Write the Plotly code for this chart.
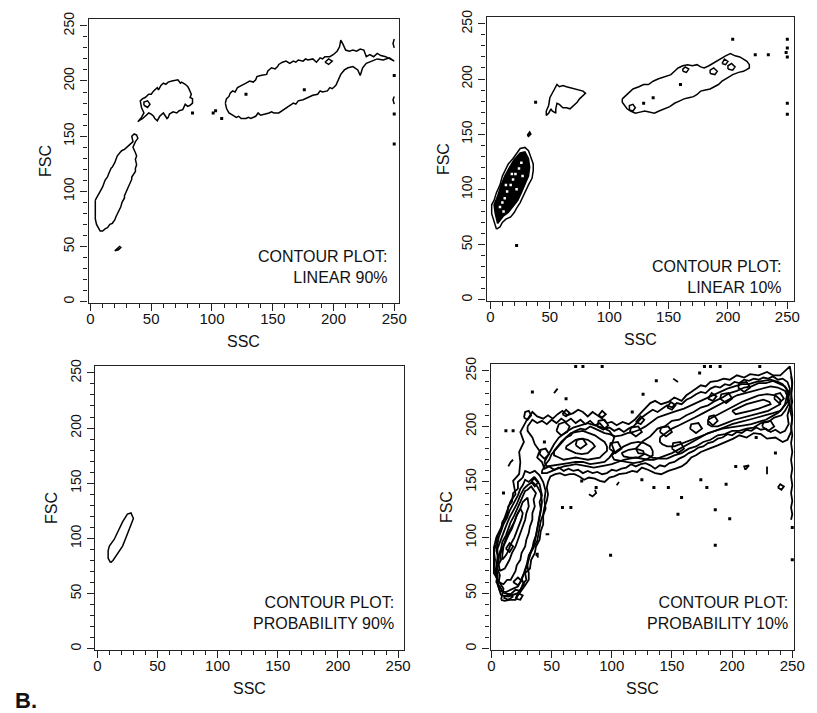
import plotly.graph_objects as go

# ---------------- contour outlines, (SSC, FSC) pairs ----------------

# Panel A: linear 90%
LIN90_LYMPH = [(4, 92), (4, 86), (4, 80), (4, 75), (5, 70), (7, 66), (8, 64), (10, 64), (12, 66), (14, 67),
               (16, 70), (18, 71), (20, 74), (21, 77), (22, 79), (24, 84), (25, 86), (26, 90), (28, 94), (28, 96),
               (30, 101), (31, 104), (32, 107), (34, 111), (34, 113), (37, 118), (37, 121), (38, 124), (37, 129),
               (38, 132), (37, 135), (36, 138), (35, 140), (37, 145), (39, 148), (38, 151), (36, 152), (34, 150),
               (35, 145), (33, 143), (31, 141), (28, 138), (26, 137), (25, 136), (22, 132), (21, 129), (20, 126),
               (18, 122), (17, 121), (15, 116), (14, 113), (12, 110), (11, 107), (10, 104), (8, 100), (7, 98),
               (4, 92)]
LIN90_SMALL = [(20, 46), (22, 48), (24, 50), (25, 49), (23, 47), (20, 46)]
LIN90_MONO = [(39, 163), (42, 167), (44, 171), (42, 176), (41, 182), (43, 184), (45, 185), (48, 188), (50, 188),
              (52, 191), (55, 194), (56, 192), (58, 196), (60, 198), (62, 197), (64, 199), (67, 200), (70, 201),
              (72, 201), (74, 198), (75, 199), (78, 197), (80, 195), (81, 193), (83, 188), (82, 185), (84, 184),
              (84, 180), (82, 178), (80, 177), (78, 179), (76, 174), (73, 173), (71, 171), (68, 172), (65, 170),
              (64, 167), (63, 166), (61, 169), (60, 171), (57, 168), (55, 164), (53, 166), (52, 168), (50, 170),
              (48, 171), (45, 168), (43, 166), (40, 164), (39, 163)]
LIN90_MONO_LOOP = [(44, 178), (47, 176), (49, 179), (47, 182), (44, 181), (44, 178)]
LIN90_GRAN = [(111, 180), (112, 184), (114, 186), (115, 189), (117, 191), (119, 190), (121, 194), (123, 195),
              (125, 196), (128, 198), (131, 200), (134, 199), (136, 201), (137, 204), (140, 205), (143, 206),
              (145, 206), (146, 209), (149, 212), (152, 211), (154, 213), (155, 215), (158, 217), (161, 218),
              (164, 216), (167, 218), (169, 217), (171, 219), (175, 218), (177, 220), (179, 219), (183, 220),
              (186, 217), (189, 221), (191, 220), (193, 222), (197, 222), (200, 224), (203, 227), (205, 231),
              (206, 237), (208, 233), (210, 228), (213, 227), (216, 228), (219, 227), (222, 229), (225, 228),
              (226, 225), (227, 222), (230, 224), (233, 222), (236, 225), (239, 223), (243, 222), (247, 220),
              (250, 218), (246, 221), (241, 219), (236, 220), (231, 218), (227, 216), (224, 212), (222, 205),
              (220, 210), (216, 213), (212, 212), (209, 210), (206, 206), (205, 203), (204, 201), (202, 196),
              (199, 193), (197, 194), (195, 191), (191, 190), (189, 191), (187, 188), (183, 187), (181, 186),
              (179, 185), (175, 183), (171, 182), (169, 179), (167, 180), (163, 177), (161, 176), (159, 174),
              (155, 171), (151, 171), (149, 172), (147, 171), (144, 170), (140, 169), (138, 171), (136, 168),
              (132, 166), (130, 167), (128, 166), (124, 166), (122, 168), (120, 167), (117, 169), (114, 171),
              (112, 175), (111, 180)]
LIN90_GRAN_LOOP = [(193, 217), (196, 215), (199, 218), (196, 220), (193, 217)]
LIN90_EDGE_A = [(250, 238), (249, 234), (250, 230)]
LIN90_EDGE_B = [(250, 186), (249, 183), (250, 179)]
LIN90_DOTS = [(84, 171), (101, 171), (103, 173), (108, 166), (128, 188), (176, 192), (250, 170), (250, 143),
              (250, 205)]

# Panel B: linear 10%
LIN10_LYMPH_1 = [(5, 64), (3, 70), (1, 78), (1, 86), (3, 90), (5, 97), (8, 104), (10, 112), (13, 118), (15, 123),
                 (19, 128), (22, 133), (25, 137), (29, 138), (32, 135), (34, 129), (36, 123), (36, 117), (35, 110),
                 (32, 104), (30, 99), (27, 93), (25, 88), (22, 83), (20, 79), (17, 75), (13, 73), (10, 70), (8, 66),
                 (5, 64)]
LIN10_LYMPH_CORE = [(6, 69), (4, 78), (3, 86), (6, 94), (9, 104), (12, 112), (16, 120), (20, 127), (25, 133),
                    (29, 134), (32, 128), (33, 120), (32, 112), (29, 104), (26, 97), (23, 90), (19, 84), (15, 79),
                    (11, 76), (8, 72), (6, 69)]
LIN10_LYMPH_GAPS = [(8, 84), (10, 88), (12, 92), (14, 98), (17, 104), (19, 109), (21, 114), (24, 119), (26, 124),
                    (13, 104), (18, 114), (22, 100), (27, 112), (11, 80)]
LIN10_MONO = [(47, 171), (49, 176), (50, 183), (53, 189), (56, 195), (58, 193), (61, 194), (64, 193), (68, 192),
              (72, 191), (75, 190), (78, 189), (80, 187), (77, 184), (75, 182), (73, 179), (71, 177), (69, 175),
              (67, 173), (64, 174), (61, 174), (58, 177), (56, 178), (55, 173), (55, 169), (52, 171), (51, 173),
              (49, 169), (47, 167), (47, 171)]
LIN10_GRAN = [(111, 182), (114, 185), (116, 187), (120, 191), (125, 193), (129, 195), (133, 195), (137, 198),
              (141, 200), (146, 202), (152, 204), (155, 207), (158, 210), (162, 212), (166, 213), (170, 212),
              (174, 213), (177, 211), (180, 210), (184, 212), (187, 214), (190, 216), (194, 218), (198, 221),
              (202, 223), (206, 221), (210, 220), (213, 218), (216, 216), (218, 213), (218, 210), (215, 208),
              (213, 207), (209, 206), (204, 204), (201, 202), (198, 200), (195, 198), (192, 195), (188, 193),
              (185, 191), (181, 190), (177, 189), (174, 186), (171, 184), (167, 183), (163, 182), (159, 180),
              (155, 178), (151, 175), (146, 173), (142, 171), (138, 169), (134, 170), (130, 171), (126, 170),
              (122, 169), (118, 171), (115, 173), (113, 176), (111, 179), (111, 182)]
LIN10_GRAN_LOOPS = [
    [(117, 172), (120, 171), (122, 174), (120, 177), (117, 176), (117, 172)],
    [(162, 207), (165, 206), (167, 209), (164, 211), (162, 209), (162, 207)],
    [(185, 205), (189, 204), (191, 207), (188, 210), (185, 208), (185, 205)],
    [(200, 209), (204, 208), (206, 211), (203, 214), (200, 212), (200, 209)],
    [(195, 214), (198, 213), (200, 216), (197, 218), (195, 214)],
]
LIN10_NODE = [(31, 149), (33, 152), (34, 150), (32, 148), (31, 149)]
LIN10_DOTS = [(38, 179), (22, 49), (129, 178), (137, 183), (160, 195), (204, 236), (223, 222), (234, 222),
              (250, 236), (250, 228), (249, 224), (250, 220), (250, 178), (250, 168)]

# Panel C: probability 90%
PROB90_LYMPH = [(11, 78), (9, 82), (9, 89), (10, 93), (14, 99), (17, 106), (21, 115), (25, 122), (28, 123),
                (30, 118), (28, 113), (25, 104), (21, 93), (17, 86), (13, 80), (11, 78)]

# Panel D: probability 10%
PROB10_OUTER = [(8, 44), (10, 54), (2, 68), (2, 80), (2, 91), (4, 100), (8, 109), (12, 121), (16, 133),
                (20, 139), (18, 151), (23, 157), (24, 168), (23, 177), (27, 186), (24, 195), (29, 205), (34, 213),
                (38, 209), (43, 207), (47, 210), (51, 207), (55, 211), (59, 214), (63, 210), (68, 212), (72, 215),
                (76, 213), (80, 209), (84, 213), (88, 210), (92, 207), (96, 203), (100, 204), (104, 201),
                (109, 204), (114, 202), (119, 206), (124, 212), (128, 217), (132, 221), (136, 223), (141, 220),
                (147, 222), (152, 226), (158, 223), (162, 228), (166, 231), (170, 234), (174, 237), (178, 236),
                (182, 240), (188, 241), (193, 243), (198, 242), (204, 246), (210, 244), (215, 247), (222, 246),
                (229, 249), (234, 246), (240, 246), (244, 250), (248, 254), (250, 240), (249, 225), (250, 210),
                (249, 195), (246, 188), (242, 186), (236, 190), (229, 189), (224, 193), (218, 194), (212, 190),
                (206, 192), (201, 189), (195, 186), (188, 183), (181, 180), (174, 177), (170, 174), (166, 172),
                (162, 167), (158, 164), (153, 162), (147, 160), (141, 157), (136, 158), (130, 161), (125, 163),
                (121, 159), (117, 160), (112, 158), (106, 157), (102, 155), (98, 154), (94, 150), (90, 151),
                (86, 153), (81, 154), (77, 152), (73, 155), (69, 157), (65, 157), (61, 156), (57, 158), (53, 157),
                (49, 155), (47, 150), (46, 145), (47, 139), (46, 133), (44, 127), (43, 121), (41, 115), (40, 109),
                (39, 103), (38, 97), (35, 91), (32, 85), (30, 79), (30, 74), (31, 68), (31, 62), (28, 57),
                (25, 53), (22, 48), (20, 44), (15, 44), (11, 43), (8, 44)]
PROB10_LYMPH_1B = [(10, 50), (16, 49), (20, 53), (24, 52), (26, 58), (29, 62), (28, 68), (32, 72), (33, 80),
                   (36, 86), (37, 92), (40, 98), (41, 106), (43, 112), (43, 120), (45, 126), (44, 134), (45, 142),
                   (43, 150), (40, 156), (36, 160), (32, 158), (28, 160), (26, 154), (22, 150), (22, 144),
                   (18, 140), (17, 132), (14, 128), (13, 120), (9, 114), (8, 106), (5, 102), (4, 94), (2, 88),
                   (3, 80), (2, 72), (5, 66), (4, 60), (7, 56), (10, 50)]
PROB10_LYMPH_2 = [(8, 48), (14, 47), (22, 50), (27, 58), (25, 63), (27, 68), (30, 78), (31, 84), (34, 90),
                  (35, 96), (37, 102), (38, 108), (39, 114), (40, 120), (41, 126), (40, 132), (42, 138), (40, 148),
                  (35, 154), (31, 150), (28, 152), (26, 147), (24, 144), (22, 138), (20, 134), (17, 128), (15, 124),
                  (13, 118), (10, 112), (8, 106), (6, 100), (5, 94), (4, 88), (6, 82), (5, 76), (3, 70), (4, 64),
                  (6, 55), (8, 48)]
PROB10_LYMPH_2B = [(7, 52), (12, 51), (18, 54), (22, 56), (25, 62), (28, 70), (31, 80), (33, 88), (36, 96),
                   (38, 106), (40, 116), (41, 124), (42, 132), (41, 140), (38, 146), (34, 150), (30, 147),
                   (27, 144), (24, 138), (21, 130), (18, 124), (15, 118), (12, 110), (9, 102), (7, 96), (5, 90),
                   (5, 82), (4, 74), (5, 66), (5, 58), (7, 52)]
PROB10_LYMPH_3 = [(6, 60), (10, 58), (13, 62), (16, 62), (18, 66), (20, 70), (21, 75), (24, 80), (25, 86),
                  (28, 92), (29, 98), (31, 104), (32, 110), (34, 116), (34, 122), (36, 128), (35, 134), (37, 140),
                  (33, 146), (30, 143), (28, 142), (26, 137), (24, 132), (21, 126), (19, 120), (16, 114), (14, 108),
                  (12, 102), (9, 96), (8, 90), (6, 84), (6, 78), (5, 72), (7, 66), (6, 60)]
PROB10_LYMPH_4 = [(7, 70), (11, 72), (13, 76), (15, 80), (17, 86), (20, 92), (22, 98), (24, 104), (26, 110),
                  (28, 116), (29, 122), (31, 128), (30, 136), (26, 132), (24, 126), (21, 120), (19, 114), (16, 108),
                  (13, 102), (11, 96), (9, 90), (7, 84), (8, 80), (6, 76), (7, 70)]
PROB10_LYMPH_5 = [(9, 80), (12, 84), (14, 88), (16, 94), (19, 100), (21, 106), (23, 112), (25, 117), (26, 122),
                  (24, 126), (21, 120), (19, 114), (17, 108), (14, 102), (12, 96), (10, 92), (9, 84), (9, 80)]
PROB10_BAND_1B = [(30, 200), (34, 206), (38, 203), (42, 205), (46, 202), (50, 206), (54, 203), (58, 207),
                  (62, 204), (66, 207), (70, 203), (74, 206), (78, 202), (82, 205), (86, 201), (90, 203),
                  (94, 198), (98, 199), (102, 196), (106, 198), (110, 195), (114, 198), (118, 200), (122, 205),
                  (126, 209), (130, 212), (134, 215), (138, 213), (142, 216), (146, 219), (150, 217), (154, 221),
                  (158, 220), (162, 224), (166, 226), (170, 229), (174, 231), (178, 230), (182, 234), (186, 236),
                  (190, 235), (194, 238), (198, 237), (202, 240), (206, 239), (210, 242), (214, 241), (218, 243),
                  (222, 242), (226, 244), (230, 243), (234, 245), (238, 242), (242, 243), (246, 240), (248, 234),
                  (247, 226), (248, 218), (246, 210), (247, 202), (244, 196), (240, 194), (236, 197), (232, 195),
                  (228, 198), (224, 197), (220, 199), (216, 196), (212, 197), (208, 194), (204, 195), (200, 192),
                  (196, 193), (192, 190), (188, 189), (184, 186), (180, 185), (176, 182), (172, 181), (168, 178),
                  (164, 176), (160, 173), (156, 171), (152, 168), (148, 167), (144, 164), (140, 165), (136, 162),
                  (132, 165), (128, 167), (124, 166), (120, 164), (116, 166), (112, 163), (108, 162), (104, 160),
                  (100, 161), (96, 158), (92, 157), (88, 159), (84, 158), (80, 160), (76, 158), (72, 161),
                  (68, 160), (64, 162), (60, 160), (56, 163), (52, 161), (48, 164), (44, 162), (42, 168),
                  (38, 172), (40, 178), (36, 184), (34, 190), (30, 196), (30, 200)]
PROB10_BAND_2 = [(42, 160), (45, 166), (48, 170), (50, 175), (54, 180), (56, 183), (58, 185), (62, 190), (66, 192),
                 (68, 195), (70, 196), (74, 198), (78, 197), (82, 200), (86, 198), (90, 196), (94, 194), (98, 193),
                 (103, 191), (108, 192), (113, 194), (118, 195), (123, 197), (128, 200), (133, 204), (138, 208),
                 (143, 210), (148, 212), (154, 214), (160, 216), (166, 219), (172, 222), (178, 225), (184, 228),
                 (190, 231), (196, 234), (202, 236), (208, 238), (214, 238), (220, 240), (226, 241), (232, 242),
                 (238, 240), (242, 238), (245, 234), (246, 230), (245, 225), (244, 220), (241, 215), (238, 212),
                 (233, 209), (228, 206), (222, 204), (216, 202), (210, 201), (204, 200), (198, 199), (192, 198),
                 (186, 196), (180, 194), (175, 191), (170, 188), (165, 185), (160, 182), (155, 179), (150, 176),
                 (145, 174), (140, 172), (135, 170), (130, 170), (125, 171), (120, 172), (115, 171), (110, 170),
                 (105, 168), (100, 166), (95, 165), (90, 164), (85, 163), (80, 164), (75, 165), (70, 166),
                 (65, 165), (60, 164), (55, 162), (50, 160), (46, 158), (42, 158), (42, 160)]
PROB10_BAND_2B = [(120, 180), (126, 187), (132, 191), (138, 198), (144, 200), (150, 205), (156, 206), (162, 210),
                  (168, 213), (174, 217), (180, 219), (186, 223), (192, 226), (198, 230), (204, 232), (210, 235),
                  (216, 236), (222, 239), (228, 239), (234, 241), (240, 238), (244, 236), (247, 231), (246, 226),
                  (247, 220), (244, 214), (241, 210), (235, 208), (230, 204), (224, 203), (218, 199), (212, 198),
                  (206, 196), (200, 196), (194, 193), (188, 192), (182, 188), (176, 186), (170, 182), (164, 180),
                  (158, 176), (152, 174), (146, 171), (140, 171), (134, 172), (128, 175), (122, 176), (120, 180)]
PROB10_MONO_2B = [(44, 168), (48, 176), (52, 184), (56, 190), (62, 195), (68, 199), (74, 201), (80, 203),
                  (86, 201), (92, 199), (98, 196), (102, 190), (100, 184), (102, 178), (98, 172), (94, 168),
                  (88, 167), (82, 166), (76, 168), (70, 168), (64, 167), (58, 166), (52, 165), (46, 164), (44, 168)]
PROB10_MONO_3 = [(52, 178), (55, 182), (58, 186), (62, 190), (66, 194), (71, 195), (76, 196), (81, 194), (86, 192),
                 (90, 189), (94, 186), (96, 182), (96, 178), (93, 175), (90, 172), (85, 171), (80, 170), (75, 171),
                 (70, 172), (65, 171), (60, 170), (56, 172), (52, 174), (52, 178)]
PROB10_MONO_4 = [(62, 182), (66, 185), (70, 188), (75, 189), (80, 188), (84, 185), (86, 182), (83, 179), (80, 176),
                 (75, 175), (70, 176), (66, 178), (62, 180), (62, 182)]
PROB10_MID_3 = [(100, 174), (104, 178), (110, 182), (116, 185), (122, 186), (127, 185), (132, 182), (134, 178),
                (134, 174), (130, 171), (124, 168), (118, 167), (112, 168), (106, 169), (102, 170), (100, 174)]
PROB10_MID_4 = [(108, 176), (114, 179), (120, 180), (126, 178), (127, 175), (122, 172), (115, 172), (110, 173),
                (108, 176)]
PROB10_GRAN_3 = [(140, 190), (145, 194), (150, 198), (156, 201), (162, 204), (169, 208), (176, 212), (183, 216),
                 (190, 220), (197, 224), (204, 228), (211, 230), (218, 232), (225, 234), (232, 236), (238, 235),
                 (244, 232), (246, 227), (246, 222), (243, 218), (240, 214), (234, 212), (228, 210), (221, 208),
                 (214, 206), (207, 204), (200, 202), (193, 199), (186, 196), (179, 193), (172, 190), (165, 187),
                 (158, 184), (152, 182), (146, 182), (142, 184), (140, 186), (140, 190)]
PROB10_GRAN_4 = [(180, 206), (187, 210), (194, 214), (201, 218), (208, 222), (215, 225), (222, 228), (229, 229),
                 (236, 228), (240, 224), (240, 220), (235, 217), (230, 214), (223, 212), (216, 210), (209, 208),
                 (202, 206), (195, 203), (188, 200), (183, 200), (180, 202), (180, 206)]
PROB10_GRAN_5 = [(200, 214), (206, 217), (212, 220), (219, 222), (226, 224), (231, 222), (232, 220), (227, 218),
                 (222, 216), (215, 214), (208, 212), (203, 211), (200, 214)]
PROB10_EDGE = [(249, 245), (250, 238), (249, 230), (250, 222), (248, 215), (250, 207), (249, 200), (250, 192),
               (249, 185), (250, 177), (249, 170), (250, 162), (249, 155), (250, 147), (249, 140), (250, 133),
               (249, 127), (250, 121), (249, 116)]
PROB10_LOOPS = [
    [(10, 46), (14, 44), (18, 47), (14, 49), (10, 46)],
    [(20, 45), (24, 44), (26, 48), (22, 50), (20, 45)],
    [(27, 208), (30, 206), (33, 210), (31, 214), (28, 213), (27, 208)],
    [(59, 211), (62, 209), (65, 212), (62, 215), (59, 211)],
    [(89, 210), (92, 208), (95, 211), (92, 214), (89, 210)],
    [(120, 204), (124, 202), (127, 206), (124, 209), (120, 204)],
    [(146, 217), (150, 215), (153, 219), (149, 222), (146, 217)],
    [(180, 225), (184, 223), (187, 227), (183, 230), (180, 225)],
    [(54, 196), (58, 192), (63, 195), (65, 200), (61, 204), (56, 202), (54, 196)],
    [(70, 183), (74, 180), (79, 184), (76, 189), (71, 188), (70, 183)],
    [(88, 200), (93, 197), (97, 201), (94, 206), (89, 205), (88, 200)],
    [(98, 180), (103, 176), (108, 180), (105, 186), (99, 185), (98, 180)],
    [(140, 195), (145, 191), (150, 195), (147, 200), (141, 199), (140, 195)],
    [(150, 180), (155, 176), (160, 180), (157, 186), (151, 185), (150, 180)],
    [(165, 198), (170, 194), (175, 198), (172, 203), (166, 202), (165, 198)],
    [(190, 225), (195, 221), (200, 225), (197, 230), (191, 229), (190, 225)],
    [(205, 235), (210, 231), (215, 235), (212, 240), (206, 239), (205, 235)],
    [(225, 200), (230, 196), (235, 200), (232, 205), (226, 204), (225, 200)],
    [(235, 225), (239, 221), (243, 225), (240, 230), (236, 229), (235, 225)],
    [(40, 175), (44, 171), (48, 175), (45, 180), (41, 179), (40, 175)],
    [(115, 195), (120, 191), (125, 195), (122, 200), (116, 199), (115, 195)],
    [(180, 205), (184, 201), (188, 205), (185, 210), (181, 209), (180, 205)],
    [(33, 150), (36, 146), (39, 150), (36, 154), (33, 150)],
    [(12, 90), (15, 87), (18, 92), (15, 95), (12, 90)],
    [(18, 60), (22, 57), (25, 61), (22, 64), (18, 60)],
    [(81, 139), (84, 137), (87, 140), (86, 143)],
    [(238, 145), (241, 143), (243, 146), (240, 148), (238, 145)],
    [(211, 161), (214, 165), (210, 164), (211, 161)],
    [(14, 164), (16, 168), (18, 170)],
]
PROB10_DASHES = [
    [(52, 230), (55, 234)],
    [(151, 243), (155, 240)],
    [(45, 103), (48, 103)],
    [(229, 157), (229, 164)],
    [(104, 147), (106, 150)],
    [(37, 85), (39, 82)],
]
PROB10_DOTS = [(34, 231), (62, 225), (18, 196), (117, 213), (126, 229), (137, 241), (173, 248), (10, 140),
               (59, 127), (66, 127), (38, 85), (99, 84), (155, 121), (186, 125), (198, 117), (186, 93), (250, 80),
               (250, 109), (203, 164), (195, 148), (179, 145), (174, 152), (147, 145), (135, 145), (158, 136),
               (125, 152), (87, 145), (75, 151), (70, 254), (76, 254), (92, 254), (177, 254), (182, 254),
               (190, 254), (223, 254), (12, 196), (44, 186), (220, 190), (236, 176)]

# axis ticks and panel captions
TICKS = [0, 50, 100, 150, 200, 250]
CAPTIONS = [("CONTOUR PLOT:", "LINEAR 90%"), ("CONTOUR PLOT:", "LINEAR 10%"),
            ("CONTOUR PLOT:", "PROBABILITY 90%"), ("CONTOUR PLOT:", "PROBABILITY 10%")]

W, H = 817, 713
FONT = "Liberation Sans, Arial, Helvetica, sans-serif"

# panel frames in pixels (left, right, top, bottom), axis ranges, caption anchor (right, middle)
PANELS = [
    dict(px=(87, 403, 12, 299), xr=(-1.6, 254.0), yr=(-0.9, 256.3), cap=(394, 263)),
    dict(px=(492, 805, 10, 297), xr=(-3.3, 255.8), yr=(-0.9, 256.3), cap=(795, 273)),
    dict(px=(94, 408, 363, 650), xr=(-1.6, 254.9), yr=(-0.9, 256.3), cap=(400, 613)),
    dict(px=(496, 805, 361, 650), xr=(-0.8, 251.6), yr=(-0.9, 256.2), cap=(801, 613)),
]

fig = go.Figure()


def axis_ids(i):
    s = "" if i == 0 else str(i + 1)
    return "x" + s, "y" + s


def add_path(i, pts, fill=False, width=1.5):
    xa, ya = axis_ids(i)
    fig.add_trace(go.Scatter(
        x=[p[0] for p in pts], y=[p[1] for p in pts], mode="lines",
        line=dict(color="black", width=width), xaxis=xa, yaxis=ya,
        fill="toself" if fill else None, fillcolor="black" if fill else None,
        hoverinfo="skip", showlegend=False))


def add_dots(i, pts, color="black", size=3):
    xa, ya = axis_ids(i)
    fig.add_trace(go.Scatter(
        x=[p[0] for p in pts], y=[p[1] for p in pts], mode="markers",
        marker=dict(color=color, size=size, symbol="square", line=dict(width=0)),
        xaxis=xa, yaxis=ya, hoverinfo="skip", showlegend=False))


# Panel A
for path in (LIN90_LYMPH, LIN90_SMALL, LIN90_MONO, LIN90_MONO_LOOP, LIN90_GRAN, LIN90_GRAN_LOOP,
             LIN90_EDGE_A, LIN90_EDGE_B):
    add_path(0, path)
add_dots(0, LIN90_DOTS)

# Panel B
add_path(1, LIN10_LYMPH_1)
add_path(1, LIN10_LYMPH_CORE, fill=True)
add_dots(1, LIN10_LYMPH_GAPS, color="white", size=2.5)
add_path(1, LIN10_NODE, fill=True)
add_path(1, LIN10_MONO)
add_path(1, LIN10_GRAN)
for loop in LIN10_GRAN_LOOPS:
    add_path(1, loop)
add_dots(1, LIN10_DOTS)

# Panel C
add_path(2, PROB90_LYMPH)

# Panel D
for path in (PROB10_OUTER, PROB10_LYMPH_1B, PROB10_LYMPH_2, PROB10_LYMPH_2B, PROB10_LYMPH_3, PROB10_LYMPH_4,
             PROB10_LYMPH_5, PROB10_BAND_1B, PROB10_BAND_2, PROB10_BAND_2B, PROB10_MONO_2B, PROB10_MONO_3,
             PROB10_MONO_4, PROB10_MID_3, PROB10_MID_4, PROB10_GRAN_3, PROB10_GRAN_4, PROB10_GRAN_5,
             PROB10_EDGE):
    add_path(3, path, width=1.8)
for path in PROB10_LOOPS + PROB10_DASHES:
    add_path(3, path, width=1.8)
add_dots(3, PROB10_DOTS)

layout = dict(width=W, height=H, margin=dict(l=0, r=0, t=0, b=0),
              paper_bgcolor="white", plot_bgcolor="white", showlegend=False)

annotations = []
for i, p in enumerate(PANELS):
    l, r, t, b = p["px"]
    s = "" if i == 0 else str(i + 1)
    common = dict(showline=True, linecolor="#222", linewidth=1.3, mirror=True, ticks="outside",
                  ticklen=7, tickwidth=1.2, tickcolor="#222", showgrid=False, zeroline=False,
                  tickvals=TICKS, ticktext=[str(v) for v in TICKS],
                  minor=dict(ticks="outside", ticklen=4, tickwidth=1, tickcolor="#222", dtick=10, tick0=0,
                             showgrid=False))
    layout["xaxis" + s] = dict(common, domain=[l / W, r / W], range=list(p["xr"]), anchor="y" + s,
                               tickfont=dict(family=FONT, size=15, color="#111"), ticklabelstandoff=-5)
    layout["yaxis" + s] = dict(common, domain=[1 - b / H, 1 - t / H], range=list(p["yr"]), anchor="x" + s,
                               tickfont=dict(family=FONT, size=14, color="#111"), tickangle=-90,
                               ticklabelstandoff=1)
    # axis titles
    annotations.append(dict(text="SSC", x=(l + r) / 2 / W, y=1 - (b + 39) / H, xref="paper", yref="paper",
                            showarrow=False, font=dict(family=FONT, size=16, color="#111"),
                            xanchor="center", yanchor="middle"))
    annotations.append(dict(text="FSC", x=(l - 44) / W, y=1 - (t + b) / 2 / H, xref="paper", yref="paper",
                            showarrow=False, textangle=-90, font=dict(family=FONT, size=16, color="#111"),
                            xanchor="center", yanchor="middle"))
    # panel caption
    line1, line2 = CAPTIONS[i]
    cx, cy = p["cap"]
    annotations.append(dict(text=line1 + "<br>" + line2, x=cx / W, y=1 - cy / H,
                            xref="paper", yref="paper", showarrow=False, align="right",
                            font=dict(family=FONT, size=16, color="#111"),
                            xanchor="right", yanchor="middle"))

annotations.append(dict(text="<b>B.</b>", x=10 / W, y=1 - 701 / H, xref="paper", yref="paper",
                        showarrow=False, font=dict(family=FONT, size=22, color="#111"),
                        xanchor="left", yanchor="middle"))
layout["annotations"] = annotations
fig.update_layout(**layout)

fig.write_html("out.html")
